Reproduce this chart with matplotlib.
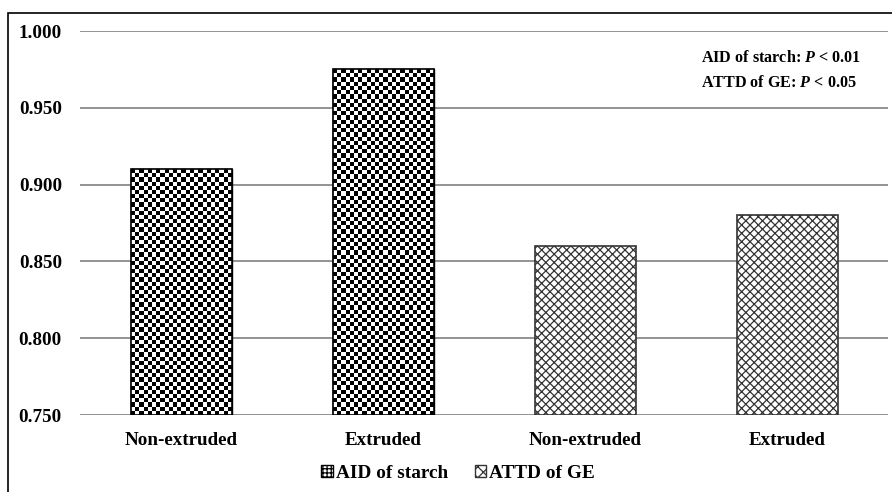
import numpy as np
import matplotlib
matplotlib.use("Agg")
import matplotlib.pyplot as plt
from matplotlib.patches import Patch, Rectangle

categories = ["Non-extruded", "Extruded", "Non-extruded", "Extruded"]
values = [0.910, 0.975, 0.860, 0.880]
groups = ["AID of starch", "AID of starch", "ATTD of GE", "ATTD of GE"]
yticks = [0.750, 0.800, 0.850, 0.900, 0.950, 1.000]
annot_lines = [("AID of starch: ", "P", " < 0.01"), ("ATTD of GE: ", "P", " < 0.05")]

plt.rcParams['font.family'] = ['Liberation Serif', 'DejaVu Serif']
plt.rcParams['font.weight'] = 'bold'
plt.rcParams['mathtext.fontset'] = 'custom'
plt.rcParams['mathtext.it'] = 'Liberation Serif:italic:bold'
plt.rcParams['mathtext.rm'] = 'Liberation Serif:bold'
plt.rcParams['hatch.linewidth'] = 0.9

W, H = 892, 492
fig = plt.figure(figsize=(W/100, H/100), dpi=100)
ax = fig.add_axes([80/W, 1-415/H, (888-80)/W, (415-31)/H])

ymin, ymax = 0.75, 1.0
x = np.arange(len(categories))
bw = 0.5
x0, x1 = -0.5, 3.5
ax.set_ylim(ymin, ymax)
ax.set_xlim(x0, x1)

for yv in yticks:
    ax.axhline(yv, color='#8a8a8a', lw=1.3, zorder=1)

axpx_h = 415 - 31
axpx_w = 888 - 80
xspan = x1 - x0
for i, (v, g) in enumerate(zip(values, groups)):
    if g == "AID of starch":
        bar = ax.bar(x[i], v - ymin, bw, bottom=ymin, facecolor='white',
                     edgecolor='black', lw=1.0, zorder=2)[0]
        hpx = (v - ymin) / (ymax - ymin) * axpx_h
        wpx = bw / xspan * axpx_w
        nr = max(1, int(round(hpx / 4.2)))
        nc = max(1, int(round(wpx / 4.2)))
        ii, jj = np.indices((nr, nc))
        arr = ((ii + jj) % 2).astype(float)
        im = ax.imshow(arr, extent=[x[i]-bw/2, x[i]+bw/2, ymin, v], cmap='gray',
                       vmin=0, vmax=1, interpolation='nearest', aspect='auto',
                       zorder=3)
        im.set_clip_path(bar)
        ax.bar(x[i], v - ymin, bw, bottom=ymin, facecolor='none',
               edgecolor='black', lw=1.2, zorder=4)
    else:
        ax.bar(x[i], v - ymin, bw, bottom=ymin, facecolor='white',
               edgecolor='#333333', hatch='xxxx', lw=1.2, zorder=2)

ax.set_xlim(x0, x1)
ax.set_ylim(ymin, ymax)
ax.set_yticks(yticks)
ax.set_yticklabels([f"{t:.3f}" for t in yticks])
ax.set_xticks(x)
ax.set_xticklabels(categories)
ax.tick_params(axis='y', length=0, pad=13, labelsize=13.7)
ax.tick_params(axis='x', length=0, pad=12, labelsize=13.7)
for s in ax.spines.values():
    s.set_visible(False)

for k, (a, p, b) in enumerate(annot_lines):
    ax.text(701/W, 1-(58 + 25*k)/H, a + r"$\it{" + p + "}$" + b,
            transform=fig.transFigure, fontsize=11.6, fontweight='bold',
            va='center', ha='left')

handles = [Patch(facecolor='white', edgecolor='black', hatch='++++', label="AID of starch"),
           Patch(facecolor='white', edgecolor='#333333', hatch='xxx', label="ATTD of GE")]
fig.legend(handles=handles, loc='center', bbox_to_anchor=(458/W, 1-473/H),
           ncol=2, frameon=False, fontsize=13.9, handlelength=0.6, handleheight=0.6,
           handletextpad=0.15, columnspacing=1.4)

fig.add_artist(Rectangle((8/W, -0.01), 1.0, 1-13/H + 0.01, transform=fig.transFigure,
                         fill=False, edgecolor='black', lw=1.2))

fig.savefig("out.png", dpi=100)
